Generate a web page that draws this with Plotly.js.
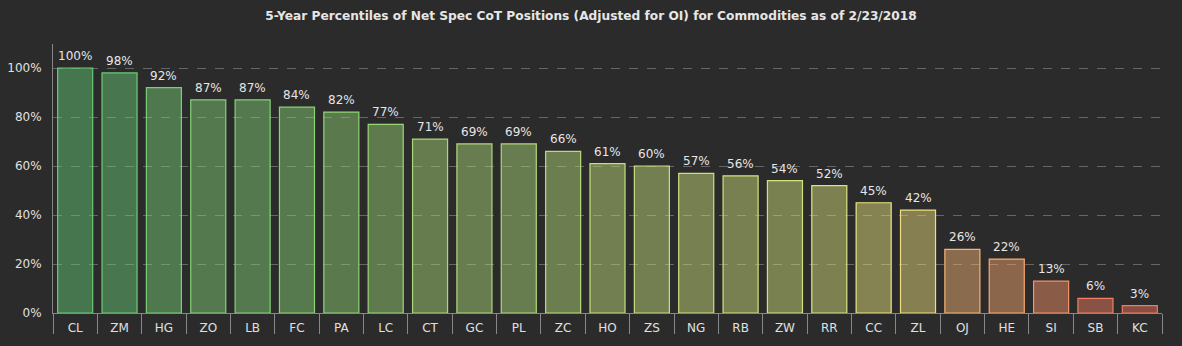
<!DOCTYPE html>
<html>
<head>
<meta charset="utf-8">
<script src="https://cdn.plot.ly/plotly-3.0.1.min.js"></script>
<style>
  html, body { margin: 0; padding: 0; background: #2b2b2b; }
  #chart { width: 1182px; height: 346px; }
</style>
</head>
<body>
<div id="chart"></div>
<script>
const categories = ["CL","ZM","HG","ZO","LB","FC","PA","LC","CT","GC","PL","ZC","HO","ZS","NG","RB","ZW","RR","CC","ZL","OJ","HE","SI","SB","KC"];
const percentiles = [1.00,0.98,0.92,0.87,0.87,0.84,0.82,0.77,0.71,0.69,0.69,0.66,0.61,0.60,0.57,0.56,0.54,0.52,0.45,0.42,0.26,0.22,0.13,0.06,0.03];
const labels = ["100%","98%","92%","87%","87%","84%","82%","77%","71%","69%","69%","66%","61%","60%","57%","56%","54%","52%","45%","42%","26%","22%","13%","6%","3%"];

const lineScale = [
  [0.0, "rgb(240,112,92)"],
  [0.2, "rgb(250,165,112)"],
  [0.45, "rgb(236,232,128)"],
  [0.75, "rgb(160,215,120)"],
  [1.0, "rgb(102,204,119)"]
];
const fillScale = lineScale.map(([s, c]) => [s, c.replace("rgb", "rgba").replace(")", ",0.47)")]);

const trace = {
  type: "bar",
  x: categories,
  y: percentiles,
  width: 0.79,
  marker: {
    color: percentiles,
    colorscale: fillScale,
    cmin: 0, cmax: 1,
    line: { color: percentiles, colorscale: lineScale, cmin: 0, cmax: 1, width: 1.2 }
  },
  hoverinfo: "x+y"
};

const annotations = categories.map((c, i) => ({
  x: c, y: percentiles[i], text: labels[i],
  showarrow: false, yanchor: "bottom", yshift: 3,
  font: { family: "DejaVu Sans, Verdana, sans-serif", size: 12, color: "#e6e6e6" }
}));

const layout = {
  width: 1182, height: 346,
  paper_bgcolor: "#2b2b2b",
  plot_bgcolor: "#2b2b2b",
  margin: { l: 53, r: 20, t: 44, b: 33 },
  title: {
    text: "<b>5-Year Percentiles of Net Spec CoT Positions (Adjusted for OI) for Commodities as of 2/23/2018</b>",
    x: 0.5, xanchor: "center", y: 0.955, yanchor: "middle",
    font: { family: "DejaVu Sans, Verdana, sans-serif", size: 12.2, color: "#e6e6e6" }
  },
  showlegend: false,
  bargap: 0.21,
  xaxis: {
    type: "category",
    tickson: "boundaries",
    ticks: "outside", ticklen: 20, tickwidth: 1, tickcolor: "#888",
    showline: true, linecolor: "#888", linewidth: 1,
    showgrid: false,
    tickfont: { family: "DejaVu Sans, Verdana, sans-serif", size: 12, color: "#e0e0e0" },
    ticklabelstandoff: 4,
    fixedrange: true
  },
  yaxis: {
    range: [0, 1.098],
    tickvals: [0, 0.2, 0.4, 0.6, 0.8, 1.0],
    tickformat: ".0%",
    showgrid: true, gridcolor: "#666", griddash: "dash", gridwidth: 1,
    zeroline: false,
    showline: true, linecolor: "#888", linewidth: 1,
    ticks: "",
    ticklabelstandoff: 8,
    tickfont: { family: "DejaVu Sans, Verdana, sans-serif", size: 12, color: "#e0e0e0" },
    fixedrange: true
  },
  annotations: annotations
};

Plotly.newPlot("chart", [trace], layout, { displayModeBar: false, staticPlot: true });
</script>
</body>
</html>
